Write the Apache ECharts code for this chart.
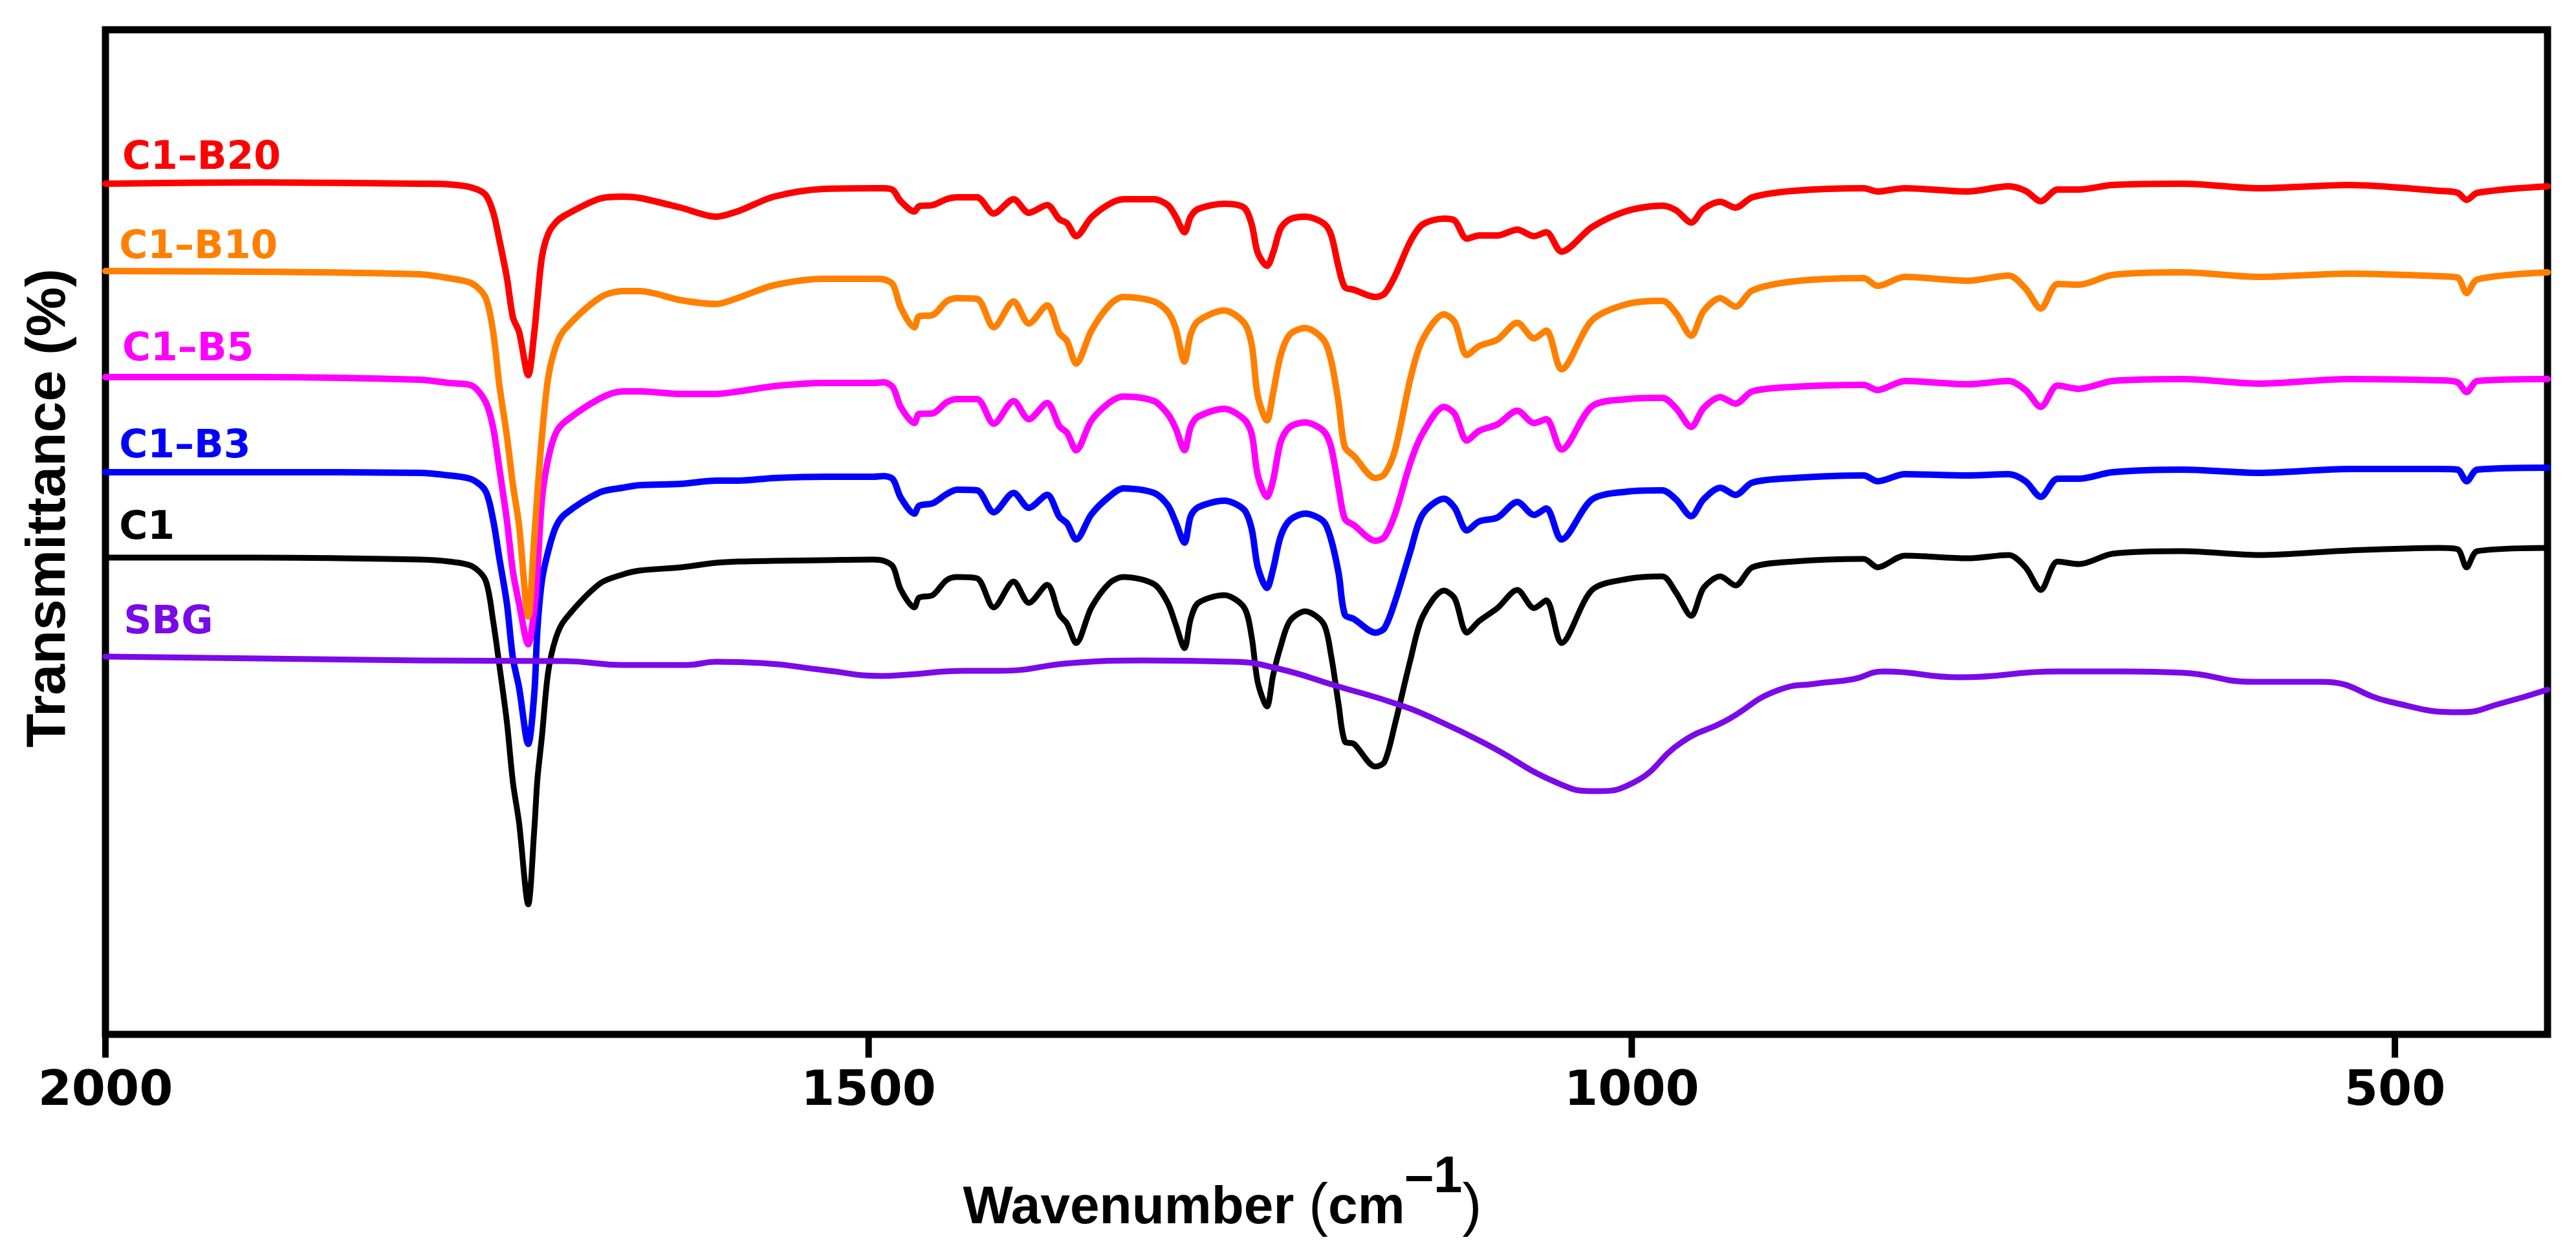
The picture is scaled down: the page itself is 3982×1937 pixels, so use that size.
<!DOCTYPE html>
<html>
<head>
<meta charset="utf-8">
<style>html,body{margin:0;padding:0;background:#fff}#c{width:3982px;height:1937px}</style>
<script src="https://cdn.jsdelivr.net/npm/echarts@6/dist/echarts.min.js"></script>
</head>
<body>
<div id="c"></div>
<script>
const wavenumbers = [2000,1900,1794,1775,1760,1751,1746,1742,1737,1733,1729,1723,1719,1717,1714,1710,1705,1699,1676,1661,1650,1623,1600,1585,1562,1529,1497,
1490,1484,1479,1470,1467,1458,1449,1442,1429,1418,1405,1395,1383,1375,1370,1364,1354,1342,1333,1313,1304,1299,1293,
1289,1284,1267,1254,1249,1245,1239,1235,1230,1224,1214,1202,1197,1192,1188,1182,1168,1162,1155,1145,1137,1123,1116,1108,1100,1088,1075,1064,1056,1046,
1026,1003,980,971,961,953,942,932,921,894,848,839,821,780,753,742,732,721,707,685,639,589,530,471,459,453,446,400];

const c1b20 = [1315,1317,1315,1314,1309,1298,1271,1229,1170,1108,1086,1019,1086,1135,1202,1237,1255,1266,1292,1295,1293,1278,1264,1273,1295,1307,1308,
1308,1305,1288,1272,1280,1282,1291,1294,1294,1269,1291,1270,1282,1260,1254,1234,1263,1284,1291,1291,1282,1265,1240,
1264,1276,1284,1278,1252,1208,1188,1208,1246,1260,1264,1254,1236,1185,1155,1151,1140,1145,1173,1226,1252,1261,1258,1230,1235,1235,1244,1234,1240,1210,
1248,1273,1281,1274,1255,1276,1287,1278,1294,1304,1308,1303,1308,1303,1311,1304,1288,1306,1306,1313,1315,1308,1313,1304,1301,1290,1301,1311];

const c1b10 = [1180,1179,1175,1169,1161,1139,1086,1005,925,849,787,646,769,836,925,1014,1063,1090,1139,1149,1149,1135,1129,1139,1158,1168,1168,
1167,1159,1124,1093,1110,1112,1133,1138,1137,1093,1133,1099,1127,1084,1072,1037,1088,1128,1140,1133,1117,1093,1040,
1082,1103,1119,1100,1066,987,949,991,1050,1082,1092,1074,1042,975,908,894,860,866,904,1014,1074,1113,1101,1050,1064,1074,1100,1076,1088,1028,
1104,1129,1134,1115,1080,1118,1138,1125,1150,1164,1169,1157,1171,1165,1173,1153,1122,1160,1159,1174,1178,1171,1176,1172,1170,1146,1167,1178];

const c1b5 = [1016,1016,1012,1007,1003,978,938,876,795,715,666,603,657,715,827,889,929,947,983,994,994,990,990,994,1002,1007,1007,
1008,1000,970,945,959,960,977,982,982,944,979,951,976,940,930,903,949,977,986,979,959,938,903,
939,955,967,951,928,864,831,856,916,939,946,933,908,844,797,787,763,769,805,884,929,970,959,918,933,943,964,945,951,904,
971,982,984,968,939,968,985,975,994,1001,1004,996,1010,1005,1010,996,970,1003,998,1010,1013,1006,1013,1011,1008,993,1010,1013];

const c1b3 = [869,869,868,864,858,840,795,737,666,581,536,449,528,626,702,746,784,804,838,845,849,851,856,856,860,862,862,
863,858,830,805,817,821,835,842,841,807,837,814,834,800,790,765,804,832,844,837,818,793,760,
801,815,825,811,781,722,690,719,770,795,805,793,765,712,649,642,621,628,670,747,804,828,814,779,793,799,823,803,813,765,
827,839,841,827,801,827,845,834,853,860,864,855,866,864,866,855,831,859,859,869,873,868,874,874,873,855,873,876];

const c1 = [737,737,734,731,724,702,639,572,483,389,327,201,318,394,461,559,612,641,697,711,717,722,729,731,732,733,734,
732,723,688,660,675,679,702,707,705,660,700,667,695,649,635,605,660,698,707,696,667,635,597,
642,667,679,660,614,544,507,555,600,639,654,635,586,509,453,449,414,421,481,579,646,686,674,621,639,659,687,659,671,605,
687,704,708,683,647,690,708,694,722,731,735,722,740,736,741,722,687,731,727,743,747,741,748,752,750,722,747,752];

const sbgWavenumbers = [2000,1794,1699,1661,1619,1600,1570,1529,1491,1475,1437,1415,1367,1321,1261,1231,1194,1153,1126,1094,1049,1024,999,967,939,903,880,855,835,785,721,676,639,593,548,503,457,430,400];
const sbg = [584,578,577,571,571,576,574,563,554,556,562,562,574,578,576,565,539,510,484,447,389,376,389,452,484,533,542,549,561,552,561,561,559,545,545,514,498,512,533];

const seriesNames = ['C1','C1–B3','C1–B5','C1–B10','C1–B20','SBG'];
const seriesColors = ['#000000','#0000ff','#ff00ff','#ff8000','#ff0000','#7a0ae8'];
const lineWidths = [9,10,10,10,10,9];
const smoothing = [0.3,0.3,0.3,0.3,0.3,0.5];
const labelWavenumbers = [1991,1991,1989,1991,1989,1988];
const labelHeights = [782,908,1058,1216,1354,636];
const xTickValues = [2000,1500,1000,500];
const xTitle = 'Wavenumber';
const yTitle = 'Transmittance (%)';

const pairs = ys => wavenumbers.map((w,i)=>[w,ys[i]]);
const seriesData = [pairs(c1),pairs(c1b3),pairs(c1b5),pairs(c1b10),pairs(c1b20),sbgWavenumbers.map((w,i)=>[w,sbg[i]])];

const lineSeries = seriesNames.map((n,i)=>({
  name:n,type:'line',xAxisIndex:0,yAxisIndex:0,data:seriesData[i],smooth:smoothing[i],showSymbol:false,symbol:'none',clip:true,
  lineStyle:{color:seriesColors[i],width:lineWidths[i],join:'round',cap:'round'},
  markPoint:{symbol:'circle',symbolSize:0,silent:true,
    data:[{name:n,coord:[labelWavenumbers[i],labelHeights[i]]}],
    label:{show:true,position:'right',distance:0,formatter:n,color:seriesColors[i],fontFamily:'DejaVu Sans',fontWeight:'bold',fontSize:60}}
}));

// outward ticks: short strokes in a second, hidden grid that reaches 36 units below the axis
const tickDepth = -36;
const tickSeries = xTickValues.map(v=>({
  name:'tick '+v,type:'line',xAxisIndex:1,yAxisIndex:1,clip:false,silent:true,showSymbol:false,symbol:'none',
  data:[[v,0],[v,tickDepth]],
  lineStyle:{color:'#000',width:10,cap:'butt'}
}));

const chart = echarts.init(document.getElementById('c'),null,{renderer:'canvas',width:3982,height:1937});
chart.setOption({
  backgroundColor:'#fff',
  animation:false,
  grid:[
    {left:163,right:44,top:46,bottom:338,outerBoundsMode:'none',show:true,borderColor:'#000',borderWidth:11,backgroundColor:'transparent'},
    {left:163,right:44,top:46,bottom:302,outerBoundsMode:'none',show:false}
  ],
  xAxis:[{
    gridIndex:0,type:'value',inverse:true,min:400,max:2000,
    axisLine:{show:false},splitLine:{show:false},axisTick:{show:false},
    axisLabel:{show:true,customValues:xTickValues,margin:52,fontFamily:'DejaVu Sans',fontWeight:'bold',fontSize:75,color:'#000',formatter:v=>String(v),hideOverlap:false,showMinLabel:true},
    name:`{b|${xTitle} }{p|(}{b|cm}{s|–1}{p|)}`,
    nameLocation:'middle',nameGap:182,
    nameTextStyle:{padding:[0,322,0,0],rich:{
      b:{fontFamily:'Liberation Sans',fontWeight:'bold',fontSize:82,color:'#000'},
      p:{fontFamily:'Liberation Sans',fontWeight:'normal',fontSize:90,color:'#000'},
      s:{fontFamily:'Liberation Sans',fontWeight:'bold',fontSize:80,color:'#000',padding:[0,0,94,0]}
    }}
  },{
    gridIndex:1,type:'value',inverse:true,min:400,max:2000,show:false
  }],
  yAxis:[{
    gridIndex:0,type:'value',min:0,max:1553,
    axisLine:{show:false},axisTick:{show:false},axisLabel:{show:false},splitLine:{show:false},
    name:yTitle,nameLocation:'middle',nameRotate:90,nameGap:44,
    nameTextStyle:{fontFamily:'Liberation Sans',fontWeight:'bold',fontSize:86,color:'#000',padding:[0,0,0,74]}
  },{
    gridIndex:1,type:'value',min:tickDepth,max:1553,show:false
  }],
  series:tickSeries.concat(lineSeries)
});
</script>
</body>
</html>
